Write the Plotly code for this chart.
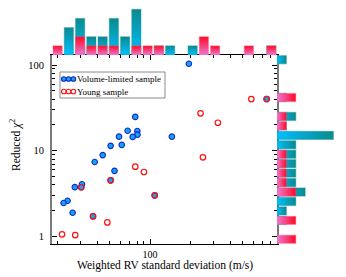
import numpy as np
import plotly.graph_objects as go

# ---- data ----
vl_rv = [196, 77.5, 67.9, 80.3, 80.5, 58.5, 74.1, 146, 61.3, 50.6, 44.1, 38.4, 54.1,
         30.8, 27.2, 24.0, 22.4, 26.2, 50.6, 30.4, 108.5, 37.3, 754]
vl_chi2 = [103.5, 24.8, 17.1, 17.0, 15.4, 14.6, 14.5, 14.6, 11.7, 11.4, 8.9, 7.4, 5.83,
           4.07, 3.76, 2.61, 2.46, 1.89, 4.52, 3.75, 3.02, 1.72, 40.1]
young_rv = [578, 754, 240, 324, 250, 77.5, 90.1, 50.6, 30.4, 108.5, 37.3, 47.8, 21.8, 27.4]
young_chi2 = [40.1, 40.1, 27.3, 21.2, 8.39, 6.52, 5.65, 4.52, 3.75, 3.02, 1.72, 1.46, 1.06, 1.04]

# histogram counts, 20 log bins over the axis range (low -> high value)
top_vl_counts = [0, 3, 4, 2, 2, 4, 2, 5, 0, 1, 1, 0, 1, 0, 0, 0, 0, 0, 0, 1]
top_young_counts = [1, 0, 2, 1, 1, 1, 0, 1, 1, 1, 0, 0, 0, 2, 1, 0, 0, 1, 0, 1]
right_vl_counts = [0, 0, 1, 1, 2, 3, 2, 2, 2, 2, 2, 6, 1, 2, 0, 1, 0, 0, 0, 1]
right_young_counts = [2, 0, 2, 0, 0, 2, 1, 1, 1, 1, 0, 0, 1, 1, 0, 2, 0, 0, 0, 0]

series_names = ["Volume-limited sample", "Young sample"]
y_tick_vals = [1, 10, 100]
x_tick_vals = [100]

# ---- layout constants ----
W, H = 346, 277
XR = [1.2632, 2.9549]   # log10 range of RV axis
YR = [-0.0875, 2.1166]  # log10 range of chi2 axis
dom_x = [52 / W, 277 / W]
dom_y = [1 - 244 / H, 1 - 55 / H]
FONT = "Liberation Serif"

BLUE_BOT, BLUE_TOP = "#00BFFF", "#0B8A8C"
RED_BOT, RED_TOP = "#EE78D6", "#FF0A22"
BLUE_FILL, BLUE_EDGE, RED_EDGE = "#12A6F2", "#1428C8", "#FF1010"

fig = go.Figure()


def add_bars(counts, rng, orient, cbot, ctop, edge, xa, ya, frac):
    edges = np.linspace(rng[0], rng[1], len(counts) + 1)
    bw = edges[1] - edges[0]
    for i, c in enumerate(counts):
        if c <= 0:
            continue
        cen = (edges[i] + edges[i + 1]) / 2
        a, b = cen - bw * frac / 2, cen + bw * frac / 2
        if orient == "v":
            xs, ys = [a, a, b, b, a], [0, c, c, 0, 0]
            gtype = "vertical"
        else:
            xs, ys = [0, c, c, 0, 0], [a, a, b, b, a]
            gtype = "horizontal"
        fig.add_trace(go.Scatter(
            x=xs, y=ys, mode="lines", fill="toself",
            fillgradient=dict(type=gtype, colorscale=[[0, cbot], [1, ctop]], start=0, stop=c),
            line=dict(color=edge, width=1.2),
            xaxis=xa, yaxis=ya, showlegend=False, hoverinfo="skip"))


# top histogram (blue first, red over it)
add_bars(top_vl_counts, XR, "v", BLUE_BOT, BLUE_TOP, "rgba(20,140,150,0.35)", "x2", "y2", 0.82)
add_bars(top_young_counts, XR, "v", RED_BOT, RED_TOP, "rgba(255,90,130,0.35)", "x2", "y2", 0.82)
# right histogram
add_bars(right_vl_counts, YR, "h", BLUE_BOT, BLUE_TOP, "rgba(20,140,150,0.35)", "x3", "y3", 0.86)
add_bars(right_young_counts, YR, "h", RED_BOT, RED_TOP, "rgba(255,90,130,0.35)", "x3", "y3", 0.86)

# scatter
fig.add_trace(go.Scatter(
    x=vl_rv, y=vl_chi2, mode="markers", name=series_names[0], showlegend=False,
    marker=dict(size=5.5, color=BLUE_FILL, line=dict(color=BLUE_EDGE, width=1.1)),
    xaxis="x", yaxis="y"))
fig.add_trace(go.Scatter(
    x=young_rv, y=young_chi2, mode="markers", name=series_names[1], showlegend=False,
    marker=dict(size=5.5, color="rgba(0,0,0,0)", line=dict(color=RED_EDGE, width=1.2)),
    xaxis="x", yaxis="y"))

minor_x = [v * m for m in (10, 100) for v in range(2, 10)]
minor_x = [v for v in minor_x if 18 < v < 900]
minor_y = [v * m for m in (1, 10, 100) for v in range(2, 10)]
minor_y = [v for v in minor_y if v < 130]

# ---- hand-made legend (box + three marker circles + label per row) ----
LEG = dict(x0=60, x1=165, y0=72, y1=98)
rows_y = [79, 91.5]
annotations = []
shapes = [dict(type="rect", xref="paper", yref="paper",
               x0=LEG["x0"] / W, x1=LEG["x1"] / W, y0=1 - LEG["y1"] / H, y1=1 - LEG["y0"] / H,
               line=dict(color="#8a8a8a", width=1), fillcolor="white", layer="above")]
glyph_styles = [(BLUE_EDGE, BLUE_FILL), (RED_EDGE, "white")]
D = 4.6
for r, (name, (outer, inner)) in enumerate(zip(series_names, glyph_styles)):
    yc = rows_y[r]
    for k in range(3):
        xc = 63.8 + k * 4.8
        shapes.append(dict(type="circle", xref="paper", yref="paper", layer="above",
                           x0=(xc - D / 2) / W, x1=(xc + D / 2) / W,
                           y0=1 - (yc + D / 2) / H, y1=1 - (yc - D / 2) / H,
                           fillcolor=inner, line=dict(color=outer, width=1.1)))
    annotations.append(dict(text=name, x=76 / W, y=1 - yc / H, xref="paper", yref="paper",
                            showarrow=False, xanchor="left", yanchor="middle", borderpad=0,
                            font=dict(family=FONT, size=9, color="black")))

annotations += [
    dict(text="Reduced <i>χ</i><sup>2</sup>", x=15 / W, y=1 - 145 / H,
         xref="paper", yref="paper", showarrow=False, textangle=-90,
         font=dict(family=FONT, size=11.5), xanchor="center", yanchor="middle"),
    dict(text="Weighted RV standard deviation (m/s)", x=164.5 / W, y=1 - 265.5 / H,
         xref="paper", yref="paper", showarrow=False, borderpad=0,
         font=dict(family=FONT, size=11.5), xanchor="center", yanchor="middle"),
]

fig.update_layout(
    width=W, height=H,
    margin=dict(l=0, r=0, t=0, b=0, autoexpand=False),
    paper_bgcolor="white", plot_bgcolor="white",
    font=dict(family=FONT, size=10, color="black"),
    showlegend=False,
    xaxis=dict(type="log", domain=dom_x, range=XR, anchor="y", automargin=False,
               showgrid=False, zeroline=False,
               showline=True, linecolor="black", linewidth=1, mirror="ticks",
               ticks="inside", ticklen=5, tickcolor="black", tickwidth=1,
               tickmode="array", tickvals=x_tick_vals, ticktext=[str(v) for v in x_tick_vals],
               tickfont=dict(family=FONT, size=10), ticklabelstandoff=1,
               minor=dict(tickmode="array", tickvals=minor_x, ticks="inside",
                          ticklen=3, tickcolor="black", showgrid=False)),
    yaxis=dict(type="log", domain=dom_y, range=YR, anchor="x", automargin=False,
               showgrid=False, zeroline=False,
               showline=True, linecolor="#7a7a7a", linewidth=2, mirror="ticks",
               ticks="inside", ticklen=5, tickcolor="black", tickwidth=1,
               tickmode="array", tickvals=y_tick_vals, ticktext=[str(v) for v in y_tick_vals],
               tickfont=dict(family=FONT, size=10.5), ticklabelstandoff=4,
               minor=dict(tickmode="array", tickvals=minor_y, ticks="inside",
                          ticklen=3, tickcolor="black", showgrid=False)),
    xaxis2=dict(domain=dom_x, range=XR, anchor="y2", visible=False, automargin=False),
    yaxis2=dict(domain=[dom_y[1], 1], range=[0, 6.02], anchor="x2", visible=False, automargin=False),
    xaxis3=dict(domain=[dom_x[1], 1], range=[0, 7.34], anchor="y3", visible=False, automargin=False),
    yaxis3=dict(domain=dom_y, range=YR, anchor="x3", visible=False, automargin=False),
    shapes=shapes,
    annotations=annotations,
)

fig.write_html("out.html", config={"displayModeBar": False},
               post_script="document.body.style.margin='0px';document.body.style.padding='0px';")
